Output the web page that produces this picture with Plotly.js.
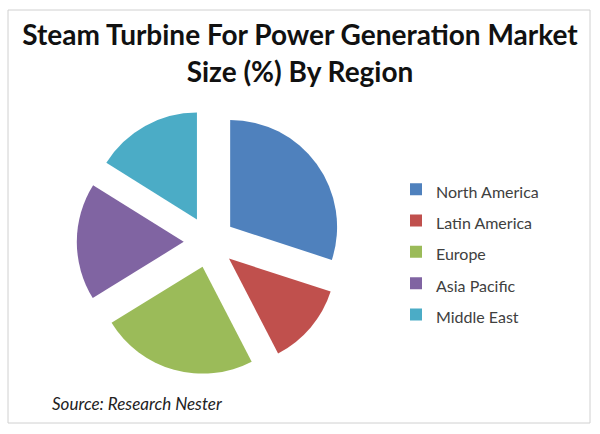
<!DOCTYPE html>
<html>
<head>
<meta charset="utf-8">
<script src="https://cdn.plot.ly/plotly-3.0.1.min.js"></script>
<style>html,body{margin:0;padding:0;background:#fff;}#chart{width:600px;height:434px;}</style>
</head>
<body>
<div id="chart"></div>
<script>
var regions = ["North America", "Latin America", "Europe", "Asia Pacific", "Middle East"];
var shares = [30, 12.4, 23.8, 17.7, 16.1];
var colors = ["#4F81BD", "#C0504D", "#9BBB59", "#8064A2", "#4BACC6"];
var titleText = "Steam Turbine For Power Generation Market<br>Size (%) By Region";
var sourceText = "Source: Research Nester";

var trace = {
  type: "pie",
  labels: regions.map(function (r) { return '<span style="font-size:16px">' + r + '</span>'; }),
  values: shares,
  marker: { colors: colors, line: { width: 0 } },
  sort: false,
  direction: "clockwise",
  rotation: 0,
  pull: shares.map(function () { return 0.24; }),
  textinfo: "none",
  hoverinfo: "label+percent",
  domain: { x: [0.128, 0.570], y: [0.137, 0.748] }
};

var layout = {
  width: 600,
  height: 434,
  margin: { l: 0, r: 0, t: 0, b: 0 },
  paper_bgcolor: "#ffffff",
  font: { family: "Lato, 'Open Sans', sans-serif", color: "#404040" },
  title: {
    text: "<b>" + titleText + "</b>",
    font: { family: "Lato, 'Open Sans', sans-serif", size: 28, color: "#111111" },
    x: 0.5, xanchor: "center",
    y: 0.896, yanchor: "top",
    xref: "paper", yref: "paper"
  },
  showlegend: true,
  legend: {
    x: 396 / 600, xanchor: "left",
    y: (434 - 252) / 434, yanchor: "middle",
    font: { size: 21.8, color: "#404040", family: "Lato, 'Open Sans', sans-serif" },
    itemwidth: 30,
    tracegroupgap: 0
  },
  annotations: [{
    text: "<i>" + sourceText + "</i>",
    xref: "paper", yref: "paper",
    x: 50 / 600, y: (434 - 403) / 434,
    xanchor: "left", yanchor: "middle",
    showarrow: false,
    font: { size: 17, color: "#222222", family: "Lato, 'Open Sans', sans-serif" }
  }],
  shapes: [{
    type: "rect", xref: "paper", yref: "paper",
    x0: 8 / 600, x1: 590 / 600, y0: (434 - 423) / 434, y1: (434 - 10) / 434,
    line: { color: "#d0d0d0", width: 1 }
  }]
};

Plotly.newPlot("chart", [trace], layout, { displayModeBar: false, staticPlot: true });
</script>
</body>
</html>
